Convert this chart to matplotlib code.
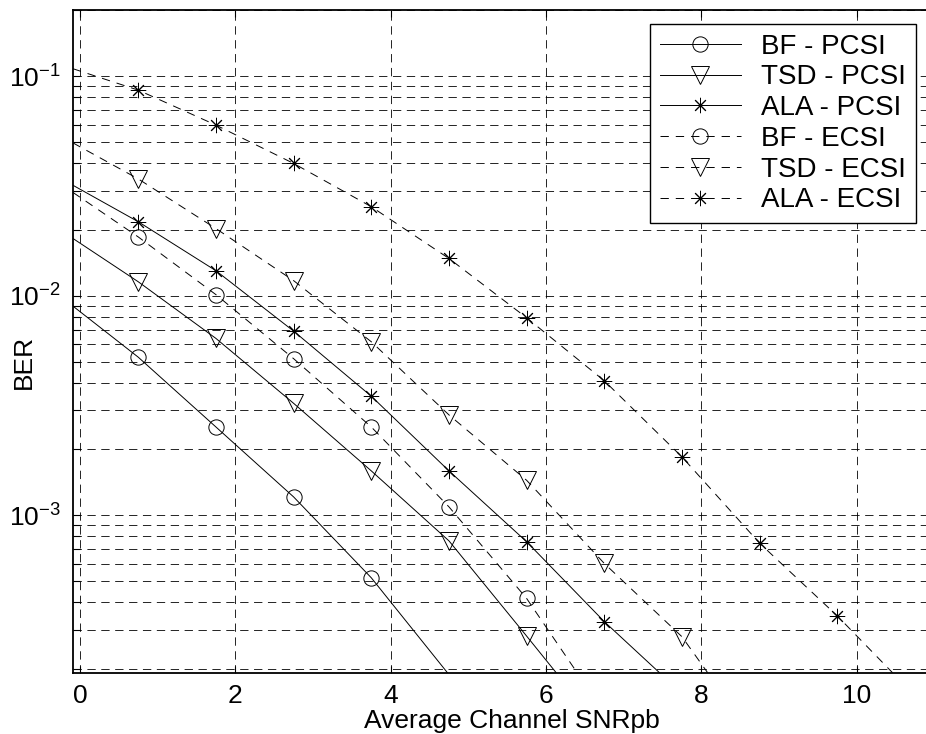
import matplotlib
matplotlib.use("Agg")
import matplotlib.pyplot as plt
from matplotlib.ticker import LogLocator, NullFormatter, FixedLocator

plt.rcParams['font.family'] = ['Liberation Sans', 'DejaVu Sans']
plt.rcParams['mathtext.fontset'] = 'custom'
plt.rcParams['mathtext.rm'] = 'Liberation Sans'
plt.rcParams['mathtext.default'] = 'regular'
plt.rcParams['lines.scale_dashes'] = False

# marker positions (Average Channel SNRpb)
snr = [0.75, 1.75, 2.75, 3.75, 4.75, 5.75, 6.75, 7.75, 8.75, 9.75]

# BER read at the markers
bf_pcsi = [5.24e-3, 2.52e-3, 1.21e-3, 5.18e-4]
tsd_pcsi = [1.156e-2, 6.38e-3, 3.23e-3, 1.59e-3, 7.63e-4, 2.81e-4]
ala_pcsi = [2.17e-2, 1.298e-2, 6.89e-3, 3.48e-3, 1.59e-3, 7.56e-4, 3.27e-4]
bf_ecsi = [1.85e-2, 1.01e-2, 5.16e-3, 2.52e-3, 1.09e-3, 4.17e-4]
tsd_ecsi = [3.4e-2, 2.02e-2, 1.17e-2, 6.16e-3, 2.86e-3, 1.44e-3, 6.02e-4, 2.79e-4]
ala_ecsi = [8.63e-2, 5.98e-2, 4.0e-2, 2.54e-2, 1.476e-2, 7.92e-3, 4.09e-3,
            1.84e-3, 7.44e-4, 3.47e-4]

# BER where each curve enters at the left edge, SNR where it leaves the bottom
left_ber = [8.95e-3, 1.82e-2, 3.18e-2, 2.95e-2, 4.96e-2, 0.108]
exit_snr = [4.73, 6.13, 7.46, 6.40, 8.08, 10.46]

labels = ['BF - PCSI', 'TSD - PCSI', 'ALA - PCSI',
          'BF - ECSI', 'TSD - ECSI', 'ALA - ECSI']
series = [bf_pcsi, tsd_pcsi, ala_pcsi, bf_ecsi, tsd_ecsi, ala_ecsi]
markers = ['o', 'v', (8, 2, 0), 'o', 'v', (8, 2, 0)]
msizes = [11, 13, 11, 11, 13, 11]
styles = ['-', '-', '-', (0, (6, 5)), (0, (6, 5)), (0, (6, 5))]

x_left = -0.09
x_right = 11.2
y_low = 1.914e-4
y_high = 0.2

fig = plt.figure(figsize=(9.26, 7.34), dpi=100)
ax = fig.add_axes([73 / 926, 1 - 672.7 / 734, (950 - 73) / 926, 662.7 / 734])

for vals, lab, mk, ms, ls, y0, xe in zip(series, labels, markers, msizes,
                                          styles, left_ber, exit_snr):
    xs = [x_left] + snr[:len(vals)] + [xe]
    ys = [y0] + vals + [y_low]
    ax.plot(xs, ys, linestyle=ls, color='k', linewidth=0.7,
            marker=mk, markersize=ms, markerfacecolor='none',
            markeredgecolor='k', markeredgewidth=0.7,
            markevery=list(range(1, len(vals) + 1)), label=lab)

ax.set_yscale('log')
ax.set_xlim(x_left, x_right)
ax.set_ylim(y_low, y_high)
ax.xaxis.set_major_locator(FixedLocator([0, 2, 4, 6, 8, 10]))
ax.yaxis.set_major_locator(LogLocator(base=10))
ax.yaxis.set_minor_locator(LogLocator(base=10, subs=range(2, 10)))
ax.yaxis.set_minor_formatter(NullFormatter())

grid_ls = (0, (6, 4))
ax.grid(True, which='major', axis='both', linestyle=grid_ls, color='k', linewidth=0.6)
ax.yaxis.grid(True, which='minor', linestyle=grid_ls, color='k', linewidth=0.6)
ax.set_axisbelow(True)

ax.tick_params(which='both', direction='in', top=True, right=True, length=5,
               width=0.8, labelsize=19)
ax.tick_params(axis='x', pad=8)
ax.tick_params(axis='y', pad=9)
for sp in ax.spines.values():
    sp.set_linewidth(1.3)

ax.set_xlabel('Average Channel SNRpb', fontsize=19)
ax.set_ylabel('BER', fontsize=19)
ax.xaxis.set_label_coords(0.5, -(721 - 672.7) / 662.7)
ax.yaxis.set_label_coords((24 - 73) / 877, 1 - (361.5 - 10) / 662.7)
ax.yaxis.label.set_verticalalignment('center')
ax.xaxis.label.set_verticalalignment('center')

leg = ax.legend(loc='upper right', bbox_to_anchor=(916 / 926, 1 - 24 / 734),
                bbox_transform=fig.transFigure, borderaxespad=0, fontsize=20,
                handlelength=2.9, handletextpad=0.75, labelspacing=0.17,
                borderpad=0.35, fancybox=False, framealpha=1, edgecolor='k')
leg.get_frame().set_linewidth(1.0)

fig.savefig('out.png', dpi=100)
